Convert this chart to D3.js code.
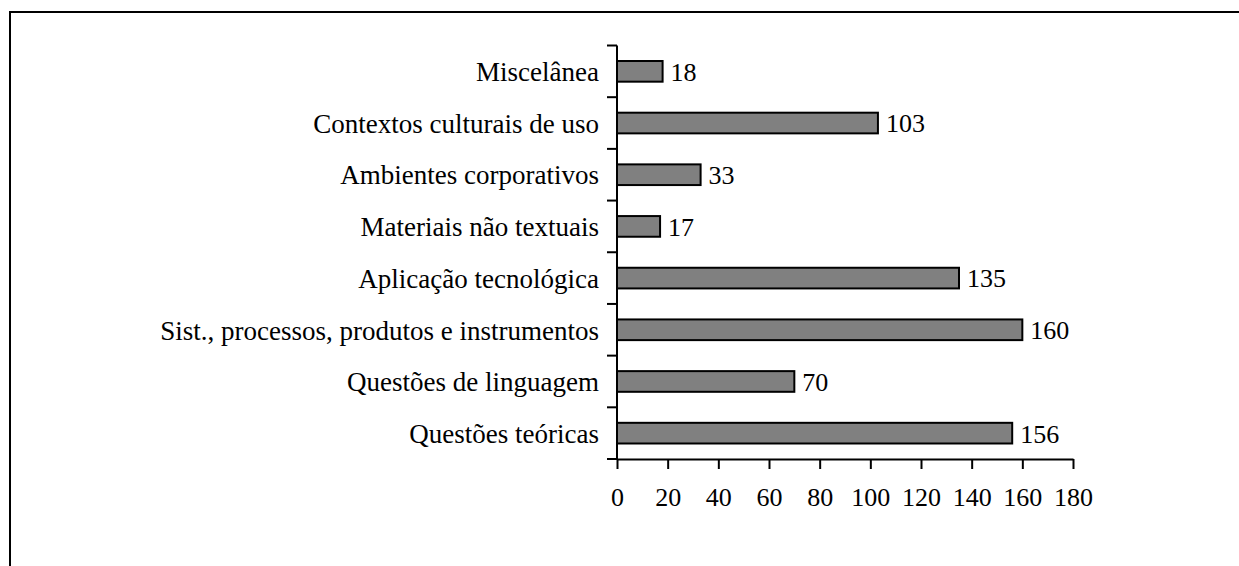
<!DOCTYPE html>
<html lang="pt">
<head>
<meta charset="UTF-8">
<title>Categorias</title>
<script src="https://d3js.org/d3.v7.min.js"></script>
<style>
  body { margin: 0; background: #fff; }
</style>
</head>
<body>
<svg></svg>
<script>
// categories top to bottom
const categories = [
    "Miscelânea",
    "Contextos culturais de uso",
    "Ambientes corporativos",
    "Materiais não textuais",
    "Aplicação tecnológica",
    "Sist., processos, produtos e instrumentos",
    "Questões de linguagem",
    "Questões teóricas"
];
const values = [18, 103, 33, 17, 135, 160, 70, 156];
const xTicks = [0, 20, 40, 60, 80, 100, 120, 140, 160, 180];

const FONT = "'Liberation Serif', 'Times New Roman', Times, serif";

const W = 1239, H = 566;
const svg = d3.select("svg").attr("width", W).attr("height", H);

// outer frame (runs off right and bottom like the original)
svg.append("rect")
    .attr("x", 10).attr("y", 12)
    .attr("width", W + 20).attr("height", H + 20)
    .attr("fill", "none").attr("stroke", "#000").attr("stroke-width", 2);

const plotLeft = 617, plotRight = 1073, plotTop = 45.5, plotBottom = 459;

const x = d3.scaleLinear().domain([0, 180]).range([plotLeft, plotRight]);
const y = d3.scaleBand().domain(categories).range([plotTop, plotBottom]).paddingInner(0.6).paddingOuter(0.3);
const yb = d3.scaleBand().domain(categories).range([plotTop, plotBottom]);

const data = categories.map((c, i) => ({ cat: c, v: values[i] }));

// bars
svg.selectAll(".bar")
    .data(data)
    .enter()
    .append("rect")
    .attr("class", "bar")
    .attr("x", x(0))
    .attr("y", d => y(d.cat))
    .attr("width", d => x(d.v) - x(0))
    .attr("height", y.bandwidth())
    .attr("fill", "#808080")
    .attr("stroke", "#000")
    .attr("stroke-width", 2);

// value labels
svg.selectAll(".val")
    .data(data)
    .enter()
    .append("text")
    .attr("x", d => x(d.v) + 8)
    .attr("y", d => y(d.cat) + y.bandwidth() / 2)
    .attr("dy", "0.36em")
    .style("font-family", FONT)
    .style("font-size", "26px")
    .text(d => d.v);

// y axis line and ticks at band boundaries
const yAxis = svg.append("g");
yAxis.append("line")
    .attr("x1", plotLeft).attr("x2", plotLeft)
    .attr("y1", plotTop).attr("y2", plotBottom)
    .attr("stroke", "#000").attr("stroke-width", 2);
const bounds = categories.map(c => yb(c)).concat([plotBottom]);
yAxis.selectAll(".yt")
    .data(bounds)
    .enter()
    .append("line")
    .attr("x1", plotLeft - 10).attr("x2", plotLeft)
    .attr("y1", d => d).attr("y2", d => d)
    .attr("stroke", "#000").attr("stroke-width", 2);

// category labels
svg.selectAll(".cat")
    .data(categories)
    .enter()
    .append("text")
    .attr("x", 599)
    .attr("y", c => yb(c) + yb.bandwidth() / 2)
    .attr("dy", "0.36em")
    .attr("text-anchor", "end")
    .style("font-family", FONT)
    .style("font-size", "27px")
    .text(c => c);

// x axis
const xAxis = svg.append("g")
    .attr("transform", `translate(0,${plotBottom})`)
    .call(d3.axisBottom(x).tickValues(xTicks).tickSize(10).tickSizeOuter(0).tickPadding(19));
xAxis.select(".domain").attr("stroke", "#000").attr("stroke-width", 2);
xAxis.selectAll(".tick line").attr("stroke", "#000").attr("stroke-width", 2);
xAxis.selectAll(".tick text")
    .attr("fill", "#000")
    .style("font-family", FONT)
    .style("font-size", "26px");
</script>
</body>
</html>
